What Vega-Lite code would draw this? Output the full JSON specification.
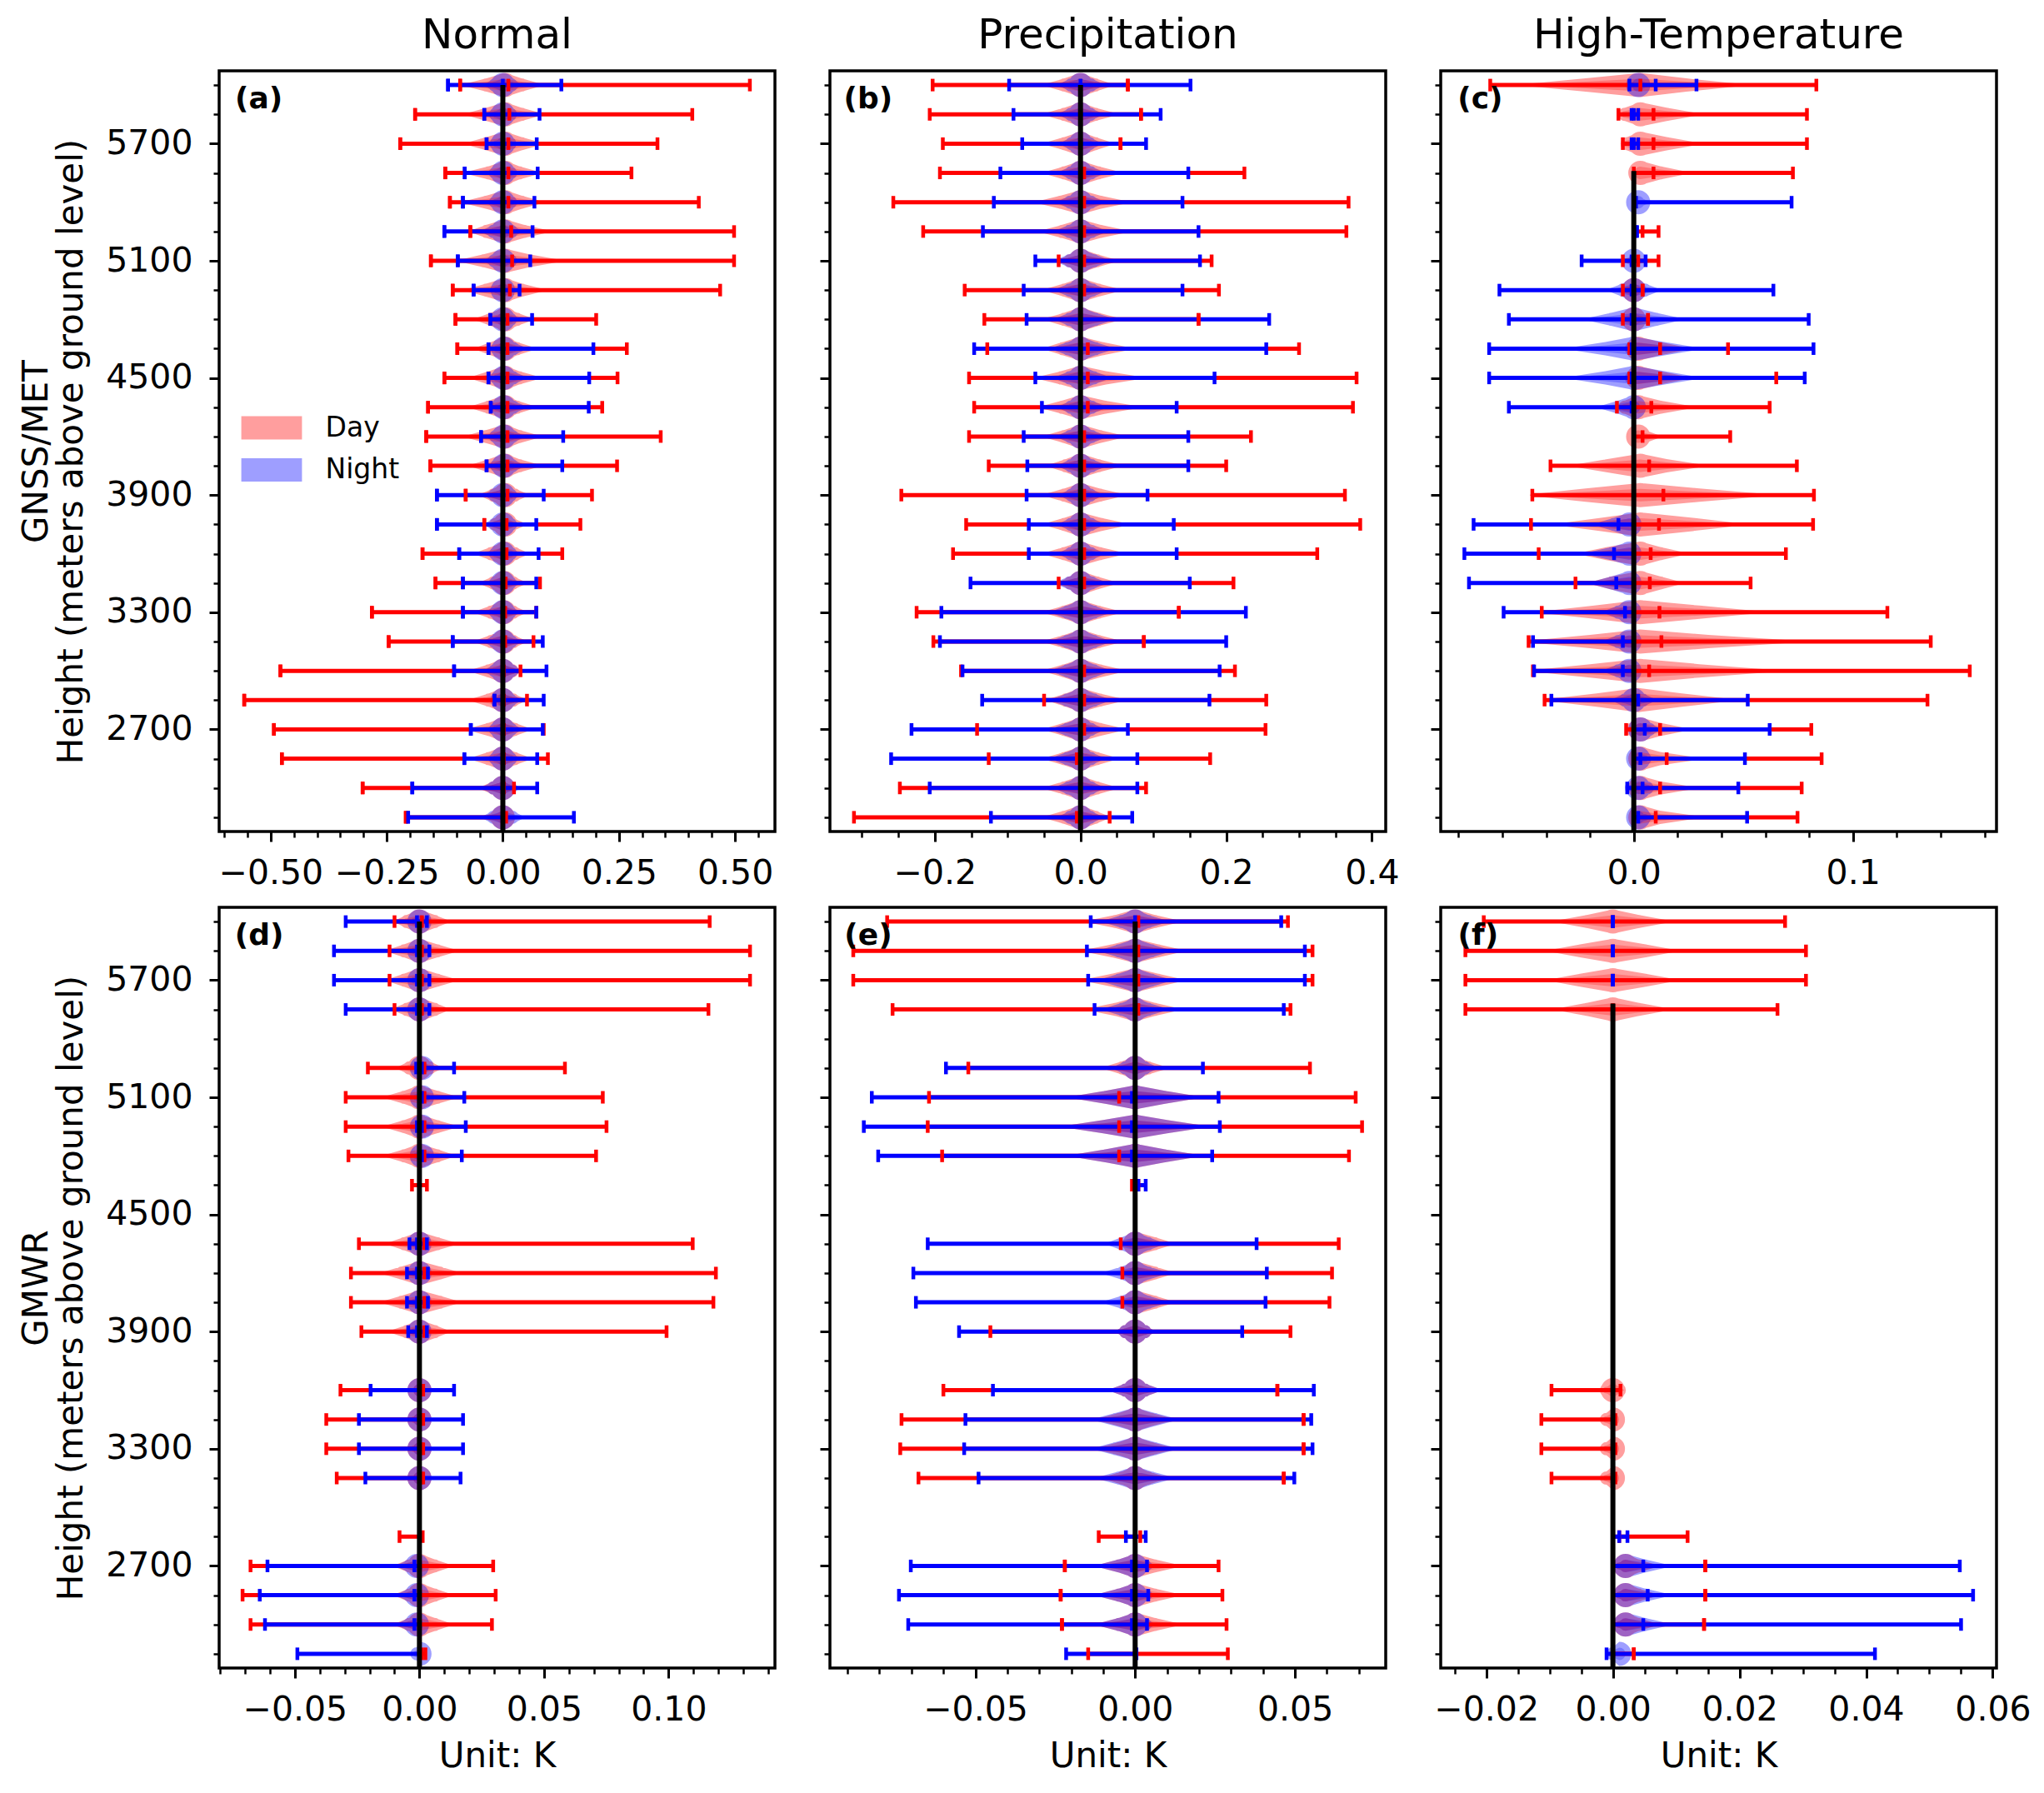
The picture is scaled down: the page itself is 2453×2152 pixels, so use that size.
{"$schema":"https://vega.github.io/schema/vega-lite/v6.json","padding":{"left":20,"top":16,"right":10,"bottom":5},"background":"white","columns":3,"bounds":"flush","spacing":{"row":91,"column":66},
"config":{"view":{"stroke":"#000","strokeWidth":3.5},"font":"DejaVu Sans","range":{"category":["#ff0000","#0000ff"]},"axis":{"grid":false,"domain":false,"labelFontSize":41,"titleFontSize":42,"titleFontWeight":"normal","labelColor":"#000","titleColor":"#000","tickColor":"#000","labelFont":"DejaVu Sans","titleFont":"DejaVu Sans"},"axisX":{"labelPadding":18,"titlePadding":15},"axisY":{"labelPadding":20},"title":{"fontSize":50,"fontWeight":"normal","color":"#000","font":"DejaVu Sans","offset":17}},
"datasets":{
"a":[
{"g":"Day","h":6000,"lo":-0.092,"m":0.012,"hi":0.532,"x":[-0.085,-0.035,0.005,0.04,0.085]},
{"g":"Day","h":5850,"lo":-0.189,"m":0.014,"hi":0.408,"x":[-0.08,-0.035,0.005,0.04,0.085]},
{"g":"Day","h":5700,"lo":-0.221,"m":0.012,"hi":0.333,"x":[-0.08,-0.035,0.005,0.04,0.085]},
{"g":"Day","h":5550,"lo":-0.124,"m":0.012,"hi":0.277,"x":[-0.08,-0.03,0.005,0.035,0.08]},
{"g":"Day","h":5400,"lo":-0.114,"m":0.012,"hi":0.422,"x":[-0.085,-0.035,0.005,0.04,0.085]},
{"g":"Day","h":5250,"lo":-0.07,"m":0.018,"hi":0.498,"x":[-0.07,-0.035,0.005,0.045,0.1]},
{"g":"Day","h":5100,"lo":-0.155,"m":0.02,"hi":0.498,"x":[-0.095,-0.04,0.005,0.055,0.125]},
{"g":"Day","h":4950,"lo":-0.108,"m":0.015,"hi":0.468,"x":[-0.08,-0.035,0.005,0.04,0.09]},
{"g":"Day","h":4800,"lo":-0.102,"m":0.01,"hi":0.201,"x":[-0.06,-0.025,0.005,0.03,0.065]},
{"g":"Day","h":4650,"lo":-0.098,"m":0.01,"hi":0.267,"x":[-0.06,-0.025,0.005,0.03,0.07]},
{"g":"Day","h":4500,"lo":-0.126,"m":0.01,"hi":0.247,"x":[-0.07,-0.03,0.005,0.035,0.08]},
{"g":"Day","h":4350,"lo":-0.161,"m":0.01,"hi":0.214,"x":[-0.07,-0.03,0.005,0.03,0.07]},
{"g":"Day","h":4200,"lo":-0.165,"m":0.01,"hi":0.34,"x":[-0.08,-0.035,0.005,0.035,0.08]},
{"g":"Day","h":4050,"lo":-0.156,"m":0.01,"hi":0.246,"x":[-0.07,-0.03,0.005,0.035,0.08]},
{"g":"Day","h":3900,"lo":-0.08,"m":0.01,"hi":0.192,"x":[-0.05,-0.02,0.005,0.025,0.055]},
{"g":"Day","h":3750,"lo":-0.04,"m":0.008,"hi":0.167,"x":[-0.035,-0.015,0.005,0.02,0.05]},
{"g":"Day","h":3600,"lo":-0.173,"m":0.008,"hi":0.128,"x":[-0.06,-0.025,0.004,0.025,0.055]},
{"g":"Day","h":3450,"lo":-0.145,"m":0.006,"hi":0.08,"x":[-0.05,-0.02,0.003,0.022,0.05]},
{"g":"Day","h":3300,"lo":-0.282,"m":0.005,"hi":0.072,"x":[-0.06,-0.025,0.002,0.022,0.05]},
{"g":"Day","h":3150,"lo":-0.246,"m":0.005,"hi":0.066,"x":[-0.06,-0.025,0.002,0.022,0.05]},
{"g":"Day","h":3000,"lo":-0.479,"m":0.002,"hi":0.038,"x":[-0.07,-0.03,0,0.02,0.038]},
{"g":"Day","h":2850,"lo":-0.557,"m":0.002,"hi":0.052,"x":[-0.07,-0.03,0,0.022,0.05]},
{"g":"Day","h":2700,"lo":-0.493,"m":0.002,"hi":0.088,"x":[-0.075,-0.03,0,0.025,0.06]},
{"g":"Day","h":2550,"lo":-0.476,"m":0.002,"hi":0.097,"x":[-0.07,-0.03,0,0.025,0.06]},
{"g":"Day","h":2400,"lo":-0.302,"m":0.002,"hi":0.024,"x":[-0.05,-0.02,0,0.012,0.024]},
{"g":"Day","h":2250,"lo":-0.209,"m":0.001,"hi":0.007,"x":[-0.04,-0.015,0,0.004,0.007]},
{"g":"Night","h":6000,"lo":-0.118,"m":0,"hi":0.126,"x":[-0.04,-0.017,0,0.018,0.04]},
{"g":"Night","h":5850,"lo":-0.04,"m":0,"hi":0.079,"x":[-0.035,-0.015,0,0.016,0.035]},
{"g":"Night","h":5700,"lo":-0.035,"m":0,"hi":0.073,"x":[-0.03,-0.014,0,0.015,0.032]},
{"g":"Night","h":5550,"lo":-0.082,"m":0,"hi":0.075,"x":[-0.035,-0.015,0,0.016,0.035]},
{"g":"Night","h":5400,"lo":-0.086,"m":0,"hi":0.068,"x":[-0.035,-0.015,0,0.016,0.035]},
{"g":"Night","h":5250,"lo":-0.126,"m":0,"hi":0.064,"x":[-0.045,-0.02,0,0.018,0.04]},
{"g":"Night","h":5100,"lo":-0.097,"m":0,"hi":0.059,"x":[-0.04,-0.018,0,0.016,0.035]},
{"g":"Night","h":4950,"lo":-0.063,"m":0,"hi":0.036,"x":[-0.03,-0.013,0,0.012,0.03]},
{"g":"Night","h":4800,"lo":-0.027,"m":0,"hi":0.063,"x":[-0.027,-0.012,0,0.016,0.035]},
{"g":"Night","h":4650,"lo":-0.031,"m":0,"hi":0.195,"x":[-0.03,-0.012,0.002,0.022,0.05]},
{"g":"Night","h":4500,"lo":-0.031,"m":0,"hi":0.186,"x":[-0.031,-0.013,0.002,0.022,0.05]},
{"g":"Night","h":4350,"lo":-0.026,"m":0,"hi":0.185,"x":[-0.026,-0.012,0.002,0.022,0.05]},
{"g":"Night","h":4200,"lo":-0.047,"m":0,"hi":0.13,"x":[-0.035,-0.015,0.002,0.02,0.045]},
{"g":"Night","h":4050,"lo":-0.035,"m":0,"hi":0.128,"x":[-0.03,-0.013,0.002,0.02,0.045]},
{"g":"Night","h":3900,"lo":-0.142,"m":0,"hi":0.088,"x":[-0.04,-0.017,0,0.016,0.035]},
{"g":"Night","h":3750,"lo":-0.142,"m":0,"hi":0.072,"x":[-0.04,-0.017,0,0.016,0.035]},
{"g":"Night","h":3600,"lo":-0.094,"m":0,"hi":0.077,"x":[-0.035,-0.015,0,0.016,0.035]},
{"g":"Night","h":3450,"lo":-0.086,"m":0,"hi":0.072,"x":[-0.035,-0.015,0,0.015,0.035]},
{"g":"Night","h":3300,"lo":-0.086,"m":0,"hi":0.072,"x":[-0.035,-0.015,0,0.015,0.035]},
{"g":"Night","h":3150,"lo":-0.108,"m":0,"hi":0.086,"x":[-0.04,-0.017,0,0.017,0.04]},
{"g":"Night","h":3000,"lo":-0.105,"m":0,"hi":0.094,"x":[-0.04,-0.017,0,0.018,0.04]},
{"g":"Night","h":2850,"lo":-0.018,"m":0,"hi":0.088,"x":[-0.018,-0.008,0,0.016,0.04]},
{"g":"Night","h":2700,"lo":-0.069,"m":0,"hi":0.086,"x":[-0.035,-0.015,0,0.017,0.04]},
{"g":"Night","h":2550,"lo":-0.083,"m":0,"hi":0.074,"x":[-0.035,-0.015,0,0.016,0.035]},
{"g":"Night","h":2400,"lo":-0.195,"m":0,"hi":0.074,"x":[-0.045,-0.02,0,0.016,0.035]},
{"g":"Night","h":2250,"lo":-0.204,"m":0,"hi":0.153,"x":[-0.045,-0.02,0,0.02,0.045]}],
"b":[
{"g":"Day","h":6000,"lo":-0.203,"m":0.065,"hi":0.065,"x":[-0.05,-0.022,0,0.02,0.045]},
{"g":"Day","h":5850,"lo":-0.207,"m":0.083,"hi":0.083,"x":[-0.05,-0.022,0,0.02,0.05]},
{"g":"Day","h":5700,"lo":-0.189,"m":0.055,"hi":0.055,"x":[-0.05,-0.022,0,0.02,0.045]},
{"g":"Day","h":5550,"lo":-0.193,"m":0.005,"hi":0.225,"x":[-0.05,-0.022,0,0.024,0.055]},
{"g":"Day","h":5400,"lo":-0.257,"m":0.005,"hi":0.368,"x":[-0.06,-0.027,0,0.027,0.065]},
{"g":"Day","h":5250,"lo":-0.216,"m":0.005,"hi":0.365,"x":[-0.055,-0.025,0,0.027,0.065]},
{"g":"Day","h":5100,"lo":-0.03,"m":0.005,"hi":0.18,"x":[-0.03,-0.014,0,0.022,0.05]},
{"g":"Day","h":4950,"lo":-0.159,"m":0.005,"hi":0.19,"x":[-0.05,-0.022,0,0.024,0.055]},
{"g":"Day","h":4800,"lo":-0.132,"m":0.162,"hi":0.162,"x":[-0.05,-0.022,0,0.024,0.055]},
{"g":"Day","h":4650,"lo":-0.128,"m":0.01,"hi":0.3,"x":[-0.05,-0.024,0,0.03,0.07]},
{"g":"Day","h":4500,"lo":-0.153,"m":0.01,"hi":0.379,"x":[-0.06,-0.027,0,0.035,0.085]},
{"g":"Day","h":4350,"lo":-0.146,"m":0.01,"hi":0.374,"x":[-0.055,-0.025,0,0.033,0.08]},
{"g":"Day","h":4200,"lo":-0.153,"m":0.005,"hi":0.234,"x":[-0.05,-0.022,0,0.026,0.06]},
{"g":"Day","h":4050,"lo":-0.126,"m":0.005,"hi":0.2,"x":[-0.045,-0.02,0,0.024,0.055]},
{"g":"Day","h":3900,"lo":-0.246,"m":0.005,"hi":0.363,"x":[-0.05,-0.022,0,0.026,0.06]},
{"g":"Day","h":3750,"lo":-0.157,"m":0.005,"hi":0.384,"x":[-0.05,-0.022,0,0.028,0.065]},
{"g":"Day","h":3600,"lo":-0.175,"m":0.005,"hi":0.325,"x":[-0.05,-0.022,0,0.026,0.06]},
{"g":"Day","h":3450,"lo":-0.03,"m":0.005,"hi":0.21,"x":[-0.03,-0.014,0,0.022,0.05]},
{"g":"Day","h":3300,"lo":-0.225,"m":0.135,"hi":0.135,"x":[-0.05,-0.022,0,0.024,0.055]},
{"g":"Day","h":3150,"lo":-0.202,"m":0.087,"hi":0.087,"x":[-0.05,-0.022,0,0.024,0.055]},
{"g":"Day","h":3000,"lo":-0.164,"m":0.005,"hi":0.212,"x":[-0.05,-0.022,0,0.026,0.06]},
{"g":"Day","h":2850,"lo":-0.05,"m":0.005,"hi":0.255,"x":[-0.045,-0.02,0,0.026,0.06]},
{"g":"Day","h":2700,"lo":-0.142,"m":0.005,"hi":0.254,"x":[-0.05,-0.022,0,0.026,0.06]},
{"g":"Day","h":2550,"lo":-0.126,"m":-0.005,"hi":0.178,"x":[-0.05,-0.022,0,0.022,0.05]},
{"g":"Day","h":2400,"lo":-0.248,"m":0,"hi":0.09,"x":[-0.05,-0.022,0,0.022,0.05]},
{"g":"Day","h":2250,"lo":-0.311,"m":-0.005,"hi":0.04,"x":[-0.05,-0.022,0,0.02,0.04]},
{"g":"Night","h":6000,"lo":-0.098,"m":0,"hi":0.151,"x":[-0.03,-0.013,0,0.014,0.032]},
{"g":"Night","h":5850,"lo":-0.092,"m":0,"hi":0.11,"x":[-0.03,-0.013,0,0.013,0.03]},
{"g":"Night","h":5700,"lo":-0.08,"m":0,"hi":0.09,"x":[-0.028,-0.012,0,0.012,0.028]},
{"g":"Night","h":5550,"lo":-0.11,"m":0,"hi":0.148,"x":[-0.03,-0.013,0,0.014,0.032]},
{"g":"Night","h":5400,"lo":-0.119,"m":0,"hi":0.14,"x":[-0.032,-0.014,0,0.014,0.032]},
{"g":"Night","h":5250,"lo":-0.134,"m":0,"hi":0.162,"x":[-0.035,-0.015,0,0.015,0.035]},
{"g":"Night","h":5100,"lo":-0.062,"m":0,"hi":0.164,"x":[-0.035,-0.015,0,0.018,0.04]},
{"g":"Night","h":4950,"lo":-0.078,"m":0,"hi":0.14,"x":[-0.035,-0.015,0,0.016,0.036]},
{"g":"Night","h":4800,"lo":-0.074,"m":0,"hi":0.259,"x":[-0.035,-0.015,0,0.02,0.045]},
{"g":"Night","h":4650,"lo":-0.146,"m":0,"hi":0.255,"x":[-0.04,-0.017,0,0.02,0.045]},
{"g":"Night","h":4500,"lo":-0.062,"m":0,"hi":0.184,"x":[-0.035,-0.015,0,0.018,0.04]},
{"g":"Night","h":4350,"lo":-0.053,"m":0,"hi":0.132,"x":[-0.03,-0.013,0,0.015,0.035]},
{"g":"Night","h":4200,"lo":-0.078,"m":0,"hi":0.148,"x":[-0.032,-0.014,0,0.015,0.035]},
{"g":"Night","h":4050,"lo":-0.073,"m":0,"hi":0.148,"x":[-0.03,-0.013,0,0.015,0.035]},
{"g":"Night","h":3900,"lo":-0.074,"m":0,"hi":0.092,"x":[-0.028,-0.012,0,0.013,0.03]},
{"g":"Night","h":3750,"lo":-0.071,"m":0,"hi":0.128,"x":[-0.03,-0.013,0,0.014,0.032]},
{"g":"Night","h":3600,"lo":-0.071,"m":0,"hi":0.132,"x":[-0.03,-0.013,0,0.014,0.032]},
{"g":"Night","h":3450,"lo":-0.151,"m":0,"hi":0.15,"x":[-0.035,-0.015,0,0.015,0.035]},
{"g":"Night","h":3300,"lo":-0.191,"m":0,"hi":0.227,"x":[-0.04,-0.018,0,0.018,0.04]},
{"g":"Night","h":3150,"lo":-0.193,"m":0,"hi":0.2,"x":[-0.04,-0.018,0,0.018,0.04]},
{"g":"Night","h":3000,"lo":-0.162,"m":0,"hi":0.191,"x":[-0.04,-0.018,0,0.018,0.04]},
{"g":"Night","h":2850,"lo":-0.135,"m":0,"hi":0.177,"x":[-0.04,-0.018,0,0.018,0.04]},
{"g":"Night","h":2700,"lo":-0.232,"m":0,"hi":0.065,"x":[-0.04,-0.018,0,0.014,0.032]},
{"g":"Night","h":2550,"lo":-0.26,"m":0,"hi":0.078,"x":[-0.04,-0.018,0,0.014,0.032]},
{"g":"Night","h":2400,"lo":-0.207,"m":0,"hi":0.078,"x":[-0.035,-0.016,0,0.014,0.032]},
{"g":"Night","h":2250,"lo":-0.123,"m":0,"hi":0.071,"x":[-0.03,-0.014,0,0.013,0.03]}],
"c":[
{"g":"Day","h":6000,"lo":-0.0655,"m":0.003,"hi":0.0833,"x":[-0.05,-0.022,0.003,0.024,0.05]},
{"g":"Day","h":5850,"lo":-0.007,"m":0.009,"hi":0.079,"x":[-0.007,-0.004,0.003,0.015,0.03]},
{"g":"Day","h":5700,"lo":-0.005,"m":0.009,"hi":0.079,"x":[-0.005,-0.003,0.003,0.015,0.03]},
{"g":"Day","h":5550,"lo":0,"m":0.009,"hi":0.0726,"x":[0,0.001,0.003,0.012,0.025]},
{"g":"Day","h":5250,"lo":0,"m":0.004,"hi":0.0113,"x":[]},
{"g":"Day","h":5100,"lo":-0.005,"m":0.002,"hi":0.0113,"x":[]},
{"g":"Day","h":4950,"lo":-0.005,"m":0.004,"hi":0.004,"x":[-0.005,-0.003,0,0.002,0.004]},
{"g":"Day","h":4800,"lo":-0.005,"m":0.0065,"hi":0.0065,"x":[-0.005,-0.003,0,0.003,0.0065]},
{"g":"Day","h":4650,"lo":-0.002,"m":0.012,"hi":0.043,"x":[-0.002,-0.001,0.002,0.012,0.025]},
{"g":"Day","h":4500,"lo":-0.002,"m":0.012,"hi":0.065,"x":[-0.002,-0.001,0.002,0.012,0.025]},
{"g":"Day","h":4350,"lo":-0.0077,"m":0.008,"hi":0.062,"x":[-0.0077,-0.004,0.002,0.012,0.027]},
{"g":"Day","h":4200,"lo":0,"m":0.004,"hi":0.044,"x":[0,0.001,0.002,0.005,0.012]},
{"g":"Day","h":4050,"lo":-0.038,"m":0.007,"hi":0.0744,"x":[-0.028,-0.012,0.003,0.015,0.032]},
{"g":"Day","h":3900,"lo":-0.0463,"m":0.0135,"hi":0.0822,"x":[-0.047,-0.022,0.003,0.03,0.062]},
{"g":"Day","h":3750,"lo":-0.0469,"m":0.0115,"hi":0.0818,"x":[-0.035,-0.015,0.003,0.027,0.05]},
{"g":"Day","h":3600,"lo":-0.0434,"m":0.0077,"hi":0.0694,"x":[-0.025,-0.012,0.003,0.012,0.024]},
{"g":"Day","h":3450,"lo":-0.0266,"m":0.0073,"hi":0.0533,"x":[-0.02,-0.01,0.003,0.012,0.022]},
{"g":"Day","h":3300,"lo":-0.042,"m":0.0117,"hi":0.1157,"x":[-0.042,-0.018,0.003,0.03,0.058]},
{"g":"Day","h":3150,"lo":-0.048,"m":0.0126,"hi":0.1355,"x":[-0.048,-0.02,0.003,0.034,0.075]},
{"g":"Day","h":3000,"lo":-0.046,"m":0.007,"hi":0.1533,"x":[-0.046,-0.02,0.003,0.03,0.065]},
{"g":"Day","h":2850,"lo":-0.0407,"m":0.002,"hi":0.134,"x":[-0.04,-0.017,0.002,0.022,0.045]},
{"g":"Day","h":2700,"lo":-0.0035,"m":0.012,"hi":0.081,"x":[-0.0035,-0.001,0.003,0.012,0.025]},
{"g":"Day","h":2550,"lo":0,"m":0.015,"hi":0.0857,"x":[0,0.001,0.003,0.012,0.03]},
{"g":"Day","h":2400,"lo":0,"m":0.012,"hi":0.0766,"x":[0,0.001,0.003,0.012,0.028]},
{"g":"Day","h":2250,"lo":0,"m":0.01,"hi":0.0747,"x":[0,0.001,0.003,0.012,0.03]},
{"g":"Night","h":6000,"lo":-0.002,"m":0.01,"hi":0.0286,"x":[-0.002,0,0.002,0.004,0.008]},
{"g":"Night","h":5850,"lo":-0.001,"m":0,"hi":0.002,"x":[]},
{"g":"Night","h":5700,"lo":-0.001,"m":0,"hi":0.002,"x":[]},
{"g":"Night","h":5400,"lo":0,"m":0.001,"hi":0.072,"x":[0,0.001,0.002,0.004,0.008]},
{"g":"Night","h":5250,"lo":0,"m":0.001,"hi":0.0015,"x":[]},
{"g":"Night","h":5100,"lo":-0.0238,"m":-0.001,"hi":0.0054,"x":[-0.005,-0.002,0,0.002,0.005]},
{"g":"Night","h":4950,"lo":-0.0613,"m":-0.001,"hi":0.0637,"x":[-0.012,-0.005,0,0.005,0.012]},
{"g":"Night","h":4800,"lo":-0.057,"m":-0.001,"hi":0.0798,"x":[-0.022,-0.01,0,0.01,0.022]},
{"g":"Night","h":4650,"lo":-0.066,"m":-0.001,"hi":0.082,"x":[-0.03,-0.013,0,0.014,0.03]},
{"g":"Night","h":4500,"lo":-0.066,"m":-0.001,"hi":0.078,"x":[-0.03,-0.013,0,0.014,0.03]},
{"g":"Night","h":4350,"lo":-0.057,"m":-0.001,"hi":0,"x":[-0.016,-0.007,0,0.001,0.002]},
{"g":"Night","h":3750,"lo":-0.0731,"m":-0.007,"hi":0,"x":[-0.018,-0.009,-0.002,0,0.001]},
{"g":"Night","h":3600,"lo":-0.0773,"m":-0.009,"hi":0,"x":[-0.022,-0.01,-0.002,0,0.001]},
{"g":"Night","h":3450,"lo":-0.0752,"m":-0.008,"hi":0,"x":[-0.02,-0.01,-0.002,0,0.001]},
{"g":"Night","h":3300,"lo":-0.0594,"m":-0.004,"hi":0,"x":[-0.014,-0.007,-0.002,0,0.001]},
{"g":"Night","h":3150,"lo":-0.046,"m":-0.005,"hi":0,"x":[-0.014,-0.007,-0.002,0,0.001]},
{"g":"Night","h":3000,"lo":-0.0455,"m":-0.005,"hi":0,"x":[-0.014,-0.007,-0.002,0,0.001]},
{"g":"Night","h":2850,"lo":-0.0376,"m":0.002,"hi":0.052,"x":[-0.01,-0.004,0,0.004,0.01]},
{"g":"Night","h":2700,"lo":0,"m":0.005,"hi":0.062,"x":[0,0.001,0.003,0.007,0.012]},
{"g":"Night","h":2550,"lo":0,"m":0.003,"hi":0.0507,"x":[0,0.001,0.002,0.005,0.008]},
{"g":"Night","h":2400,"lo":-0.003,"m":0.004,"hi":0.0477,"x":[-0.003,-0.001,0.002,0.006,0.01]},
{"g":"Night","h":2250,"lo":0,"m":0.002,"hi":0.0517,"x":[0,0.001,0.002,0.005,0.008]}],
"d":[
{"g":"Day","h":6000,"lo":-0.01,"m":0.001,"hi":0.1165,"x":[-0.01,-0.005,0,0.006,0.012]},
{"g":"Day","h":5850,"lo":-0.012,"m":0.001,"hi":0.1327,"x":[-0.013,-0.006,0,0.007,0.015]},
{"g":"Day","h":5700,"lo":-0.012,"m":0.001,"hi":0.1327,"x":[-0.013,-0.006,0,0.007,0.015]},
{"g":"Day","h":5550,"lo":-0.01,"m":0.001,"hi":0.116,"x":[-0.011,-0.005,0,0.006,0.012]},
{"g":"Day","h":5250,"lo":-0.0207,"m":0.002,"hi":0.0584,"x":[-0.009,-0.004,0,0.004,0.009]},
{"g":"Day","h":5100,"lo":-0.0296,"m":0.002,"hi":0.0736,"x":[-0.014,-0.006,0,0.007,0.015]},
{"g":"Day","h":4950,"lo":-0.0296,"m":0.002,"hi":0.0751,"x":[-0.014,-0.006,0,0.007,0.015]},
{"g":"Day","h":4800,"lo":-0.0285,"m":0.002,"hi":0.0709,"x":[-0.014,-0.006,0,0.007,0.014]},
{"g":"Day","h":4650,"lo":-0.003,"m":0,"hi":0.003,"x":[]},
{"g":"Day","h":4350,"lo":-0.0243,"m":0.002,"hi":0.1097,"x":[-0.013,-0.006,0,0.007,0.015]},
{"g":"Day","h":4200,"lo":-0.0275,"m":0.002,"hi":0.119,"x":[-0.015,-0.007,0,0.008,0.016]},
{"g":"Day","h":4050,"lo":-0.0275,"m":0.002,"hi":0.118,"x":[-0.015,-0.007,0,0.008,0.016]},
{"g":"Day","h":3900,"lo":-0.0233,"m":0.002,"hi":0.0992,"x":[-0.012,-0.005,0,0.006,0.012]},
{"g":"Day","h":3600,"lo":-0.0317,"m":0.001,"hi":0.0015,"x":[-0.003,-0.001,0,0.001,0.0025]},
{"g":"Day","h":3450,"lo":-0.0374,"m":0.001,"hi":0.0015,"x":[-0.0045,-0.002,0,0.001,0.0025]},
{"g":"Day","h":3300,"lo":-0.0374,"m":0.001,"hi":0.0015,"x":[-0.0045,-0.002,0,0.001,0.0025]},
{"g":"Day","h":3150,"lo":-0.0332,"m":0.001,"hi":0.0015,"x":[-0.003,-0.001,0,0.001,0.0025]},
{"g":"Day","h":2850,"lo":-0.008,"m":0,"hi":0.0013,"x":[]},
{"g":"Day","h":2700,"lo":-0.0678,"m":0,"hi":0.0296,"x":[-0.01,-0.004,0,0.006,0.013]},
{"g":"Day","h":2550,"lo":-0.071,"m":0,"hi":0.0306,"x":[-0.01,-0.004,0,0.006,0.013]},
{"g":"Day","h":2400,"lo":-0.0678,"m":0,"hi":0.0291,"x":[-0.01,-0.004,0,0.006,0.013]},
{"g":"Day","h":2250,"lo":0,"m":0.001,"hi":0.0024,"x":[]},
{"g":"Night","h":6000,"lo":-0.0296,"m":-0.001,"hi":0.003,"x":[-0.004,-0.002,0,0.002,0.003]},
{"g":"Night","h":5850,"lo":-0.0343,"m":-0.001,"hi":0.004,"x":[-0.005,-0.002,0,0.002,0.004]},
{"g":"Night","h":5700,"lo":-0.0343,"m":-0.001,"hi":0.004,"x":[-0.005,-0.002,0,0.002,0.004]},
{"g":"Night","h":5550,"lo":-0.0296,"m":-0.001,"hi":0.004,"x":[-0.004,-0.002,0,0.002,0.004]},
{"g":"Night","h":5250,"lo":-0.0013,"m":0.001,"hi":0.0139,"x":[-0.0013,0,0.001,0.002,0.004]},
{"g":"Night","h":5100,"lo":0,"m":0.001,"hi":0.018,"x":[-0.003,-0.001,0.001,0.003,0.005]},
{"g":"Night","h":4950,"lo":-0.001,"m":0.001,"hi":0.0186,"x":[-0.003,-0.001,0.001,0.003,0.005]},
{"g":"Night","h":4800,"lo":0,"m":0.001,"hi":0.017,"x":[-0.003,-0.001,0.001,0.003,0.005]},
{"g":"Night","h":4350,"lo":-0.004,"m":-0.001,"hi":0.003,"x":[-0.004,-0.002,0,0.002,0.003]},
{"g":"Night","h":4200,"lo":-0.005,"m":-0.001,"hi":0.0034,"x":[-0.005,-0.002,0,0.002,0.0034]},
{"g":"Night","h":4050,"lo":-0.005,"m":-0.001,"hi":0.0034,"x":[-0.005,-0.002,0,0.002,0.0034]},
{"g":"Night","h":3900,"lo":-0.0045,"m":-0.001,"hi":0.003,"x":[-0.0045,-0.002,0,0.002,0.003]},
{"g":"Night","h":3600,"lo":-0.0196,"m":0,"hi":0.0139,"x":[-0.002,-0.001,0,0.001,0.002]},
{"g":"Night","h":3450,"lo":-0.0243,"m":0,"hi":0.0175,"x":[-0.003,-0.001,0,0.001,0.003]},
{"g":"Night","h":3300,"lo":-0.0243,"m":0,"hi":0.0175,"x":[-0.003,-0.001,0,0.001,0.003]},
{"g":"Night","h":3150,"lo":-0.0217,"m":0,"hi":0.0165,"x":[-0.002,-0.001,0,0.001,0.002]},
{"g":"Night","h":2700,"lo":-0.061,"m":-0.002,"hi":0,"x":[-0.009,-0.004,-0.001,0,0.001]},
{"g":"Night","h":2550,"lo":-0.0641,"m":-0.002,"hi":0,"x":[-0.009,-0.004,-0.001,0,0.001]},
{"g":"Night","h":2400,"lo":-0.062,"m":-0.002,"hi":0,"x":[-0.009,-0.004,-0.001,0,0.001]},
{"g":"Night","h":2250,"lo":-0.049,"m":0,"hi":0,"x":[-0.002,-0.001,0,0,0.001]}],
"e":[
{"g":"Day","h":6000,"lo":-0.0776,"m":0.001,"hi":0.0478,"x":[-0.015,-0.006,0,0.006,0.014]},
{"g":"Day","h":5850,"lo":-0.0882,"m":0.001,"hi":0.0555,"x":[-0.016,-0.007,0,0.007,0.015]},
{"g":"Day","h":5700,"lo":-0.0882,"m":0.001,"hi":0.0555,"x":[-0.016,-0.007,0,0.007,0.015]},
{"g":"Day","h":5550,"lo":-0.0759,"m":0.001,"hi":0.0486,"x":[-0.015,-0.006,0,0.006,0.014]},
{"g":"Day","h":5250,"lo":-0.0522,"m":0,"hi":0.0547,"x":[-0.01,-0.004,0,0.004,0.01]},
{"g":"Day","h":5100,"lo":-0.0645,"m":-0.005,"hi":0.069,"x":[-0.02,-0.009,0,0.009,0.02]},
{"g":"Day","h":4950,"lo":-0.0649,"m":-0.005,"hi":0.071,"x":[-0.022,-0.01,0,0.01,0.022]},
{"g":"Day","h":4800,"lo":-0.0604,"m":-0.005,"hi":0.0669,"x":[-0.02,-0.009,0,0.009,0.02]},
{"g":"Day","h":4650,"lo":-0.001,"m":0,"hi":0.001,"x":[]},
{"g":"Day","h":4350,"lo":-0.0045,"m":0,"hi":0.0637,"x":[-0.0045,-0.002,0,0.006,0.012]},
{"g":"Day","h":4200,"lo":-0.004,"m":0,"hi":0.0616,"x":[-0.004,-0.002,0,0.006,0.012]},
{"g":"Day","h":4050,"lo":-0.004,"m":0,"hi":0.0608,"x":[-0.004,-0.002,0,0.006,0.012]},
{"g":"Day","h":3900,"lo":-0.0453,"m":0,"hi":0.0486,"x":[-0.006,-0.003,0,0.003,0.006]},
{"g":"Day","h":3600,"lo":-0.06,"m":0.0445,"hi":0.0445,"x":[-0.008,-0.003,0,0.003,0.008]},
{"g":"Day","h":3450,"lo":-0.0731,"m":0.0527,"hi":0.0527,"x":[-0.012,-0.005,0,0.005,0.012]},
{"g":"Day","h":3300,"lo":-0.0735,"m":0.0527,"hi":0.0527,"x":[-0.012,-0.005,0,0.005,0.012]},
{"g":"Day","h":3150,"lo":-0.0678,"m":0.0465,"hi":0.0465,"x":[-0.01,-0.004,0,0.004,0.01]},
{"g":"Day","h":2850,"lo":-0.0114,"m":0,"hi":0.0016,"x":[]},
{"g":"Day","h":2700,"lo":-0.022,"m":-0.022,"hi":0.0261,"x":[-0.012,-0.005,0,0.006,0.014]},
{"g":"Day","h":2550,"lo":-0.0233,"m":-0.0233,"hi":0.0273,"x":[-0.012,-0.005,0,0.006,0.014]},
{"g":"Day","h":2400,"lo":-0.0229,"m":-0.0229,"hi":0.0286,"x":[-0.012,-0.005,0,0.006,0.014]},
{"g":"Day","h":2250,"lo":-0.0147,"m":0,"hi":0.029,"x":[]},
{"g":"Night","h":6000,"lo":-0.0139,"m":0,"hi":0.0457,"x":[-0.01,-0.004,0,0.004,0.01]},
{"g":"Night","h":5850,"lo":-0.0151,"m":0,"hi":0.0531,"x":[-0.011,-0.005,0,0.005,0.011]},
{"g":"Night","h":5700,"lo":-0.0147,"m":0,"hi":0.0531,"x":[-0.011,-0.005,0,0.005,0.011]},
{"g":"Night","h":5550,"lo":-0.0127,"m":0,"hi":0.0465,"x":[-0.01,-0.004,0,0.004,0.01]},
{"g":"Night","h":5250,"lo":-0.0592,"m":0,"hi":0.0212,"x":[-0.007,-0.003,0,0.003,0.007]},
{"g":"Night","h":5100,"lo":-0.0824,"m":-0.001,"hi":0.0261,"x":[-0.02,-0.009,0,0.009,0.02]},
{"g":"Night","h":4950,"lo":-0.0849,"m":-0.001,"hi":0.0265,"x":[-0.022,-0.01,0,0.01,0.022]},
{"g":"Night","h":4800,"lo":-0.0804,"m":-0.001,"hi":0.0241,"x":[-0.02,-0.009,0,0.009,0.02]},
{"g":"Night","h":4650,"lo":0,"m":0.001,"hi":0.0033,"x":[]},
{"g":"Night","h":4350,"lo":-0.0649,"m":0,"hi":0.038,"x":[-0.009,-0.004,0,0.004,0.009]},
{"g":"Night","h":4200,"lo":-0.0694,"m":0,"hi":0.0412,"x":[-0.01,-0.004,0,0.004,0.01]},
{"g":"Night","h":4050,"lo":-0.0686,"m":0,"hi":0.0408,"x":[-0.01,-0.004,0,0.004,0.01]},
{"g":"Night","h":3900,"lo":-0.0551,"m":0,"hi":0.0335,"x":[-0.006,-0.003,0,0.003,0.006]},
{"g":"Night","h":3600,"lo":-0.0445,"m":0,"hi":0.0559,"x":[-0.008,-0.003,0,0.003,0.008]},
{"g":"Night","h":3450,"lo":-0.0531,"m":0,"hi":0.0551,"x":[-0.013,-0.006,0,0.006,0.013]},
{"g":"Night","h":3300,"lo":-0.0535,"m":0,"hi":0.0555,"x":[-0.013,-0.006,0,0.006,0.013]},
{"g":"Night","h":3150,"lo":-0.049,"m":0,"hi":0.0498,"x":[-0.012,-0.005,0,0.005,0.012]},
{"g":"Night","h":2850,"lo":-0.0029,"m":0,"hi":0.0033,"x":[]},
{"g":"Night","h":2700,"lo":-0.0702,"m":-0.001,"hi":0.0037,"x":[-0.012,-0.005,0,0.003,0.006]},
{"g":"Night","h":2550,"lo":-0.0739,"m":-0.001,"hi":0.0041,"x":[-0.012,-0.005,0,0.003,0.006]},
{"g":"Night","h":2400,"lo":-0.071,"m":-0.001,"hi":0.0037,"x":[-0.012,-0.005,0,0.003,0.006]},
{"g":"Night","h":2250,"lo":-0.0216,"m":0,"hi":0.0004,"x":[]}],
"f":[
{"g":"Day","h":6000,"lo":-0.0204,"m":0,"hi":0.0272,"x":[-0.009,-0.004,0,0.004,0.009]},
{"g":"Day","h":5850,"lo":-0.0233,"m":0,"hi":0.0305,"x":[-0.01,-0.005,0,0.005,0.01]},
{"g":"Day","h":5700,"lo":-0.0233,"m":0,"hi":0.0305,"x":[-0.01,-0.005,0,0.005,0.01]},
{"g":"Day","h":5550,"lo":-0.0233,"m":0,"hi":0.026,"x":[-0.009,-0.004,0,0.004,0.009]},
{"g":"Day","h":3600,"lo":-0.0097,"m":0,"hi":0.0012,"x":[-0.002,-0.001,0,0.001,0.0017]},
{"g":"Day","h":3450,"lo":-0.0113,"m":0,"hi":0.0004,"x":[-0.002,-0.001,0,0,0.0005]},
{"g":"Day","h":3300,"lo":-0.0113,"m":0,"hi":0.0004,"x":[-0.002,-0.001,0,0,0.0005]},
{"g":"Day","h":3150,"lo":-0.0097,"m":0,"hi":0.0004,"x":[-0.0015,-0.001,0,0,0.0005]},
{"g":"Day","h":2850,"lo":0,"m":0.001,"hi":0.0118,"x":[]},
{"g":"Day","h":2700,"lo":0,"m":0.0146,"hi":0.0146,"x":[0,0.001,0.002,0.004,0.007]},
{"g":"Day","h":2550,"lo":0,"m":0.0146,"hi":0.0146,"x":[0,0.001,0.002,0.004,0.007]},
{"g":"Day","h":2400,"lo":0,"m":0.0144,"hi":0.0144,"x":[0,0.001,0.002,0.004,0.007]},
{"g":"Day","h":2250,"lo":0,"m":0.0033,"hi":0.0033,"x":[]},
{"g":"Night","h":6000,"lo":0,"m":0,"hi":0,"x":[]},
{"g":"Night","h":5850,"lo":0,"m":0,"hi":0,"x":[]},
{"g":"Night","h":5700,"lo":0,"m":0,"hi":0,"x":[]},
{"g":"Night","h":2850,"lo":0,"m":0.001,"hi":0.0023,"x":[]},
{"g":"Night","h":2700,"lo":0,"m":0.0048,"hi":0.0548,"x":[0,0.001,0.002,0.005,0.009]},
{"g":"Night","h":2550,"lo":0,"m":0.0055,"hi":0.0569,"x":[0,0.001,0.002,0.005,0.009]},
{"g":"Night","h":2400,"lo":0,"m":0.0048,"hi":0.055,"x":[0,0.001,0.002,0.005,0.009]},
{"g":"Night","h":2250,"lo":-0.001,"m":0,"hi":0.0414,"x":[-0.001,0,0.001,0.001,0.002]}]
},
"concat":[
{"title":"Normal","width":667,"height":913,"data":{"name":"a"},"resolve":{"axis":{"x":"independent","y":"independent"},"scale":{"size":"independent"}},"layer":[
{"mark":{"type":"tick","orient":"vertical","size":15,"thickness":4.5,"opacity":1},"encoding":{"x":{"field":"lo","type":"quantitative","axis":null},"y":{"field":"h","type":"quantitative","axis":null},"color":{"field":"g","type":"nominal","legend":{"title":null,"orient":"none","legendX":46.5,"legendY":412,"symbolType":"M-2.6,-1H2.6V1H-2.6Z","symbolSize":784,"labelFontSize":33,"labelColor":"#000","rowPadding":16.5,"labelOffset":48,"symbolStrokeWidth":0,"symbolOpacity":1}}}},
{"mark":{"type":"trail","opacity":0.38},"transform":[{"flatten":["x"]},{"window":[{"op":"row_number","as":"i"}],"groupby":["g","h"]}],"encoding":{"x":{"field":"x","type":"quantitative","scale":{"domain":[-0.611,0.586],"nice":false,"zero":false},"axis":{"orient":"bottom","values":[-0.6,-0.55,-0.45,-0.4,-0.35,-0.3,-0.2,-0.15,-0.1,-0.05,0.05,0.1,0.15,0.2,0.3,0.35,0.4,0.45,0.55],"labels":false,"title":null,"tickSize":7,"tickWidth":2.5}},"y":{"field":"h","type":"quantitative","scale":{"domain":[2177,6073],"nice":false,"zero":false},"axis":{"orient":"left","values":[2250,2400,2550,2850,3000,3150,3450,3600,3750,4050,4200,4350,4650,4800,4950,5250,5400,5550,5850,6000],"labels":false,"title":null,"tickSize":7,"tickWidth":2.5}},"color":{"field":"g","type":"nominal"},"detail":{"field":"h","type":"nominal"},"order":{"field":"i","type":"quantitative"},"size":{"field":"i","type":"ordinal","scale":{"type":"ordinal","domain":[1,2,3,4,5],"range":[2,16,29,16,2]},"legend":null}}},
{"mark":{"type":"trail","opacity":0.25},"transform":[{"flatten":["x"]},{"window":[{"op":"row_number","as":"i"}],"groupby":["g","h"]}],"encoding":{"x":{"field":"x","type":"quantitative","axis":null},"y":{"field":"h","type":"quantitative","axis":null},"color":{"field":"g","type":"nominal"},"detail":{"field":"h","type":"nominal"},"order":{"field":"i","type":"quantitative"},"size":{"field":"i","type":"ordinal","scale":{"type":"ordinal","domain":[1,2,3,4,5],"range":[1,8,15,8,1]},"legend":null}}},
{"mark":{"type":"rule","strokeWidth":5},"encoding":{"x":{"field":"lo","type":"quantitative","axis":null},"x2":{"field":"hi"},"y":{"field":"h","type":"quantitative","axis":null},"color":{"field":"g","type":"nominal"}}},
{"mark":{"type":"tick","orient":"vertical","size":15,"thickness":4.5,"opacity":1},"transform":[{"fold":["lo","m","hi"]}],"encoding":{"x":{"field":"value","type":"quantitative","axis":{"orient":"bottom","values":[-0.5,-0.25,0,0.25,0.5],"format":".2f","title":null,"tickSize":12,"tickWidth":3}},"y":{"field":"h","type":"quantitative","axis":{"orient":"left","format":"d","values":[2700,3300,3900,4500,5100,5700],"title":["GNSS/MET","Height (meters above ground level)"],"titleLineHeight":42,"titlePadding":19,"tickSize":12,"tickWidth":3}},"color":{"field":"g","type":"nominal"}}},
{"data":{"values":[{"z":0,"t":6000,"b":2177}]},"mark":{"type":"rule","strokeWidth":6,"color":"#000"},"encoding":{"x":{"field":"z","type":"quantitative","axis":null},"y":{"field":"t","type":"quantitative","axis":null},"y2":{"field":"b"}}},
{"data":{"values":[{"x":-0.577,"h":5926,"t":"(a)"}]},"mark":{"type":"text","align":"left","baseline":"middle","fontWeight":"bold","fontSize":36,"color":"#000"},"encoding":{"x":{"field":"x","type":"quantitative","axis":null},"y":{"field":"h","type":"quantitative","axis":null},"text":{"field":"t"}}}]},
{"title":"Precipitation","width":667,"height":913,"data":{"name":"b"},"resolve":{"axis":{"x":"independent","y":"independent"},"scale":{"size":"independent"}},"layer":[
{"mark":{"type":"trail","opacity":0.38},"transform":[{"flatten":["x"]},{"window":[{"op":"row_number","as":"i"}],"groupby":["g","h"]}],"encoding":{"x":{"field":"x","type":"quantitative","scale":{"domain":[-0.344,0.419],"nice":false,"zero":false},"axis":{"orient":"bottom","values":[-0.3,-0.25,-0.15,-0.1,-0.05,0.05,0.1,0.15,0.25,0.3,0.35],"labels":false,"title":null,"tickSize":7,"tickWidth":2.5}},"y":{"field":"h","type":"quantitative","scale":{"domain":[2177,6073],"nice":false,"zero":false},"axis":{"orient":"left","values":[2250,2400,2550,2850,3000,3150,3450,3600,3750,4050,4200,4350,4650,4800,4950,5250,5400,5550,5850,6000],"labels":false,"title":null,"tickSize":7,"tickWidth":2.5}},"color":{"field":"g","type":"nominal","legend":null},"detail":{"field":"h","type":"nominal"},"order":{"field":"i","type":"quantitative"},"size":{"field":"i","type":"ordinal","scale":{"type":"ordinal","domain":[1,2,3,4,5],"range":[2,16,29,16,2]},"legend":null}}},
{"mark":{"type":"trail","opacity":0.25},"transform":[{"flatten":["x"]},{"window":[{"op":"row_number","as":"i"}],"groupby":["g","h"]}],"encoding":{"x":{"field":"x","type":"quantitative","axis":null},"y":{"field":"h","type":"quantitative","axis":null},"color":{"field":"g","type":"nominal","legend":null},"detail":{"field":"h","type":"nominal"},"order":{"field":"i","type":"quantitative"},"size":{"field":"i","type":"ordinal","scale":{"type":"ordinal","domain":[1,2,3,4,5],"range":[1,8,15,8,1]},"legend":null}}},
{"mark":{"type":"rule","strokeWidth":5},"encoding":{"x":{"field":"lo","type":"quantitative","axis":null},"x2":{"field":"hi"},"y":{"field":"h","type":"quantitative","axis":null},"color":{"field":"g","type":"nominal","legend":null}}},
{"mark":{"type":"tick","orient":"vertical","size":15,"thickness":4.5,"opacity":1},"transform":[{"fold":["lo","m","hi"]}],"encoding":{"x":{"field":"value","type":"quantitative","axis":{"orient":"bottom","values":[-0.2,0,0.2,0.4],"format":".1f","title":null,"tickSize":12,"tickWidth":3}},"y":{"field":"h","type":"quantitative","axis":{"orient":"left","values":[2700,3300,3900,4500,5100,5700],"labels":false,"title":null,"tickSize":12,"tickWidth":3}},"color":{"field":"g","type":"nominal","legend":null}}},
{"data":{"values":[{"z":0,"t":6000,"b":2177}]},"mark":{"type":"rule","strokeWidth":6,"color":"#000"},"encoding":{"x":{"field":"z","type":"quantitative","axis":null},"y":{"field":"t","type":"quantitative","axis":null},"y2":{"field":"b"}}},
{"data":{"values":[{"x":-0.325,"h":5926,"t":"(b)"}]},"mark":{"type":"text","align":"left","baseline":"middle","fontWeight":"bold","fontSize":36,"color":"#000"},"encoding":{"x":{"field":"x","type":"quantitative","axis":null},"y":{"field":"h","type":"quantitative","axis":null},"text":{"field":"t"}}}]},
{"title":"High-Temperature","width":667,"height":913,"data":{"name":"c"},"resolve":{"axis":{"x":"independent","y":"independent"},"scale":{"size":"independent"}},"layer":[
{"mark":{"type":"trail","opacity":0.38},"transform":[{"flatten":["x"]},{"window":[{"op":"row_number","as":"i"}],"groupby":["g","h"]}],"encoding":{"x":{"field":"x","type":"quantitative","scale":{"domain":[-0.0881,0.1655],"nice":false,"zero":false},"axis":{"orient":"bottom","values":[-0.08,-0.06,-0.04,-0.02,0.02,0.04,0.06,0.08,0.12,0.14,0.16],"labels":false,"title":null,"tickSize":7,"tickWidth":2.5}},"y":{"field":"h","type":"quantitative","scale":{"domain":[2177,6073],"nice":false,"zero":false},"axis":{"orient":"left","values":[2250,2400,2550,2850,3000,3150,3450,3600,3750,4050,4200,4350,4650,4800,4950,5250,5400,5550,5850,6000],"labels":false,"title":null,"tickSize":7,"tickWidth":2.5}},"color":{"field":"g","type":"nominal","legend":null},"detail":{"field":"h","type":"nominal"},"order":{"field":"i","type":"quantitative"},"size":{"field":"i","type":"ordinal","scale":{"type":"ordinal","domain":[1,2,3,4,5],"range":[2,16,29,16,2]},"legend":null}}},
{"mark":{"type":"trail","opacity":0.25},"transform":[{"flatten":["x"]},{"window":[{"op":"row_number","as":"i"}],"groupby":["g","h"]}],"encoding":{"x":{"field":"x","type":"quantitative","axis":null},"y":{"field":"h","type":"quantitative","axis":null},"color":{"field":"g","type":"nominal","legend":null},"detail":{"field":"h","type":"nominal"},"order":{"field":"i","type":"quantitative"},"size":{"field":"i","type":"ordinal","scale":{"type":"ordinal","domain":[1,2,3,4,5],"range":[1,8,15,8,1]},"legend":null}}},
{"mark":{"type":"rule","strokeWidth":5},"encoding":{"x":{"field":"lo","type":"quantitative","axis":null},"x2":{"field":"hi"},"y":{"field":"h","type":"quantitative","axis":null},"color":{"field":"g","type":"nominal","legend":null}}},
{"mark":{"type":"tick","orient":"vertical","size":15,"thickness":4.5,"opacity":1},"transform":[{"fold":["lo","m","hi"]}],"encoding":{"x":{"field":"value","type":"quantitative","axis":{"orient":"bottom","values":[0,0.1],"format":".1f","title":null,"tickSize":12,"tickWidth":3}},"y":{"field":"h","type":"quantitative","axis":{"orient":"left","values":[2700,3300,3900,4500,5100,5700],"labels":false,"title":null,"tickSize":12,"tickWidth":3}},"color":{"field":"g","type":"nominal","legend":null}}},
{"data":{"values":[{"z":0,"t":5560,"b":2177}]},"mark":{"type":"rule","strokeWidth":6,"color":"#000"},"encoding":{"x":{"field":"z","type":"quantitative","axis":null},"y":{"field":"t","type":"quantitative","axis":null},"y2":{"field":"b"}}},
{"data":{"values":[{"x":-0.0804,"h":5926,"t":"(c)"}]},"mark":{"type":"text","align":"left","baseline":"middle","fontWeight":"bold","fontSize":36,"color":"#000"},"encoding":{"x":{"field":"x","type":"quantitative","axis":null},"y":{"field":"h","type":"quantitative","axis":null},"text":{"field":"t"}}}]},
{"width":667,"height":913,"data":{"name":"d"},"resolve":{"axis":{"x":"independent","y":"independent"},"scale":{"size":"independent"}},"layer":[
{"mark":{"type":"trail","opacity":0.38},"transform":[{"flatten":["x"]},{"window":[{"op":"row_number","as":"i"}],"groupby":["g","h"]}],"encoding":{"x":{"field":"x","type":"quantitative","scale":{"domain":[-0.0804,0.1427],"nice":false,"zero":false},"axis":{"orient":"bottom","values":[-0.08,-0.07,-0.06,-0.04,-0.03,-0.02,-0.01,0.01,0.02,0.03,0.04,0.06,0.07,0.08,0.09,0.11,0.12,0.13,0.14],"labels":false,"title":null,"tickSize":7,"tickWidth":2.5}},"y":{"field":"h","type":"quantitative","scale":{"domain":[2177,6073],"nice":false,"zero":false},"axis":{"orient":"left","values":[2250,2400,2550,2850,3000,3150,3450,3600,3750,4050,4200,4350,4650,4800,4950,5250,5400,5550,5850,6000],"labels":false,"title":null,"tickSize":7,"tickWidth":2.5}},"color":{"field":"g","type":"nominal","legend":null},"detail":{"field":"h","type":"nominal"},"order":{"field":"i","type":"quantitative"},"size":{"field":"i","type":"ordinal","scale":{"type":"ordinal","domain":[1,2,3,4,5],"range":[2,16,29,16,2]},"legend":null}}},
{"mark":{"type":"trail","opacity":0.25},"transform":[{"flatten":["x"]},{"window":[{"op":"row_number","as":"i"}],"groupby":["g","h"]}],"encoding":{"x":{"field":"x","type":"quantitative","axis":null},"y":{"field":"h","type":"quantitative","axis":null},"color":{"field":"g","type":"nominal","legend":null},"detail":{"field":"h","type":"nominal"},"order":{"field":"i","type":"quantitative"},"size":{"field":"i","type":"ordinal","scale":{"type":"ordinal","domain":[1,2,3,4,5],"range":[1,8,15,8,1]},"legend":null}}},
{"mark":{"type":"rule","strokeWidth":5},"encoding":{"x":{"field":"lo","type":"quantitative","axis":null},"x2":{"field":"hi"},"y":{"field":"h","type":"quantitative","axis":null},"color":{"field":"g","type":"nominal","legend":null}}},
{"mark":{"type":"tick","orient":"vertical","size":15,"thickness":4.5,"opacity":1},"transform":[{"fold":["lo","m","hi"]}],"encoding":{"x":{"field":"value","type":"quantitative","axis":{"orient":"bottom","values":[-0.05,0,0.05,0.1],"format":".2f","title":"Unit: K","tickSize":12,"tickWidth":3}},"y":{"field":"h","type":"quantitative","axis":{"orient":"left","format":"d","values":[2700,3300,3900,4500,5100,5700],"title":["GMWR","Height (meters above ground level)"],"titleLineHeight":42,"titlePadding":19,"tickSize":12,"tickWidth":3}},"color":{"field":"g","type":"nominal","legend":null}}},
{"data":{"values":[{"z":0,"t":6000,"b":2177}]},"mark":{"type":"rule","strokeWidth":6,"color":"#000"},"encoding":{"x":{"field":"z","type":"quantitative","axis":null},"y":{"field":"t","type":"quantitative","axis":null},"y2":{"field":"b"}}},
{"data":{"values":[{"x":-0.0741,"h":5926,"t":"(d)"}]},"mark":{"type":"text","align":"left","baseline":"middle","fontWeight":"bold","fontSize":36,"color":"#000"},"encoding":{"x":{"field":"x","type":"quantitative","axis":null},"y":{"field":"h","type":"quantitative","axis":null},"text":{"field":"t"}}}]},
{"width":667,"height":913,"data":{"name":"e"},"resolve":{"axis":{"x":"independent","y":"independent"},"scale":{"size":"independent"}},"layer":[
{"mark":{"type":"trail","opacity":0.38},"transform":[{"flatten":["x"]},{"window":[{"op":"row_number","as":"i"}],"groupby":["g","h"]}],"encoding":{"x":{"field":"x","type":"quantitative","scale":{"domain":[-0.0955,0.0784],"nice":false,"zero":false},"axis":{"orient":"bottom","values":[-0.09,-0.08,-0.07,-0.06,-0.04,-0.03,-0.02,-0.01,0.01,0.02,0.03,0.04,0.06,0.07],"labels":false,"title":null,"tickSize":7,"tickWidth":2.5}},"y":{"field":"h","type":"quantitative","scale":{"domain":[2177,6073],"nice":false,"zero":false},"axis":{"orient":"left","values":[2250,2400,2550,2850,3000,3150,3450,3600,3750,4050,4200,4350,4650,4800,4950,5250,5400,5550,5850,6000],"labels":false,"title":null,"tickSize":7,"tickWidth":2.5}},"color":{"field":"g","type":"nominal","legend":null},"detail":{"field":"h","type":"nominal"},"order":{"field":"i","type":"quantitative"},"size":{"field":"i","type":"ordinal","scale":{"type":"ordinal","domain":[1,2,3,4,5],"range":[2,16,29,16,2]},"legend":null}}},
{"mark":{"type":"trail","opacity":0.25},"transform":[{"flatten":["x"]},{"window":[{"op":"row_number","as":"i"}],"groupby":["g","h"]}],"encoding":{"x":{"field":"x","type":"quantitative","axis":null},"y":{"field":"h","type":"quantitative","axis":null},"color":{"field":"g","type":"nominal","legend":null},"detail":{"field":"h","type":"nominal"},"order":{"field":"i","type":"quantitative"},"size":{"field":"i","type":"ordinal","scale":{"type":"ordinal","domain":[1,2,3,4,5],"range":[1,8,15,8,1]},"legend":null}}},
{"mark":{"type":"rule","strokeWidth":5},"encoding":{"x":{"field":"lo","type":"quantitative","axis":null},"x2":{"field":"hi"},"y":{"field":"h","type":"quantitative","axis":null},"color":{"field":"g","type":"nominal","legend":null}}},
{"mark":{"type":"tick","orient":"vertical","size":15,"thickness":4.5,"opacity":1},"transform":[{"fold":["lo","m","hi"]}],"encoding":{"x":{"field":"value","type":"quantitative","axis":{"orient":"bottom","values":[-0.05,0,0.05],"format":".2f","title":"Unit: K","tickSize":12,"tickWidth":3}},"y":{"field":"h","type":"quantitative","axis":{"orient":"left","values":[2700,3300,3900,4500,5100,5700],"labels":false,"title":null,"tickSize":12,"tickWidth":3}},"color":{"field":"g","type":"nominal","legend":null}}},
{"data":{"values":[{"z":0,"t":6000,"b":2177}]},"mark":{"type":"rule","strokeWidth":6,"color":"#000"},"encoding":{"x":{"field":"z","type":"quantitative","axis":null},"y":{"field":"t","type":"quantitative","axis":null},"y2":{"field":"b"}}},
{"data":{"values":[{"x":-0.091,"h":5926,"t":"(e)"}]},"mark":{"type":"text","align":"left","baseline":"middle","fontWeight":"bold","fontSize":36,"color":"#000"},"encoding":{"x":{"field":"x","type":"quantitative","axis":null},"y":{"field":"h","type":"quantitative","axis":null},"text":{"field":"t"}}}]},
{"width":667,"height":913,"data":{"name":"f"},"resolve":{"axis":{"x":"independent","y":"independent"},"scale":{"size":"independent"}},"layer":[
{"mark":{"type":"trail","opacity":0.38},"transform":[{"flatten":["x"]},{"window":[{"op":"row_number","as":"i"}],"groupby":["g","h"]}],"encoding":{"x":{"field":"x","type":"quantitative","scale":{"domain":[-0.0272,0.0606],"nice":false,"zero":false},"axis":{"orient":"bottom","values":[-0.025,-0.015,-0.01,-0.005,0.005,0.01,0.015,0.025,0.03,0.035,0.045,0.05,0.055],"labels":false,"title":null,"tickSize":7,"tickWidth":2.5}},"y":{"field":"h","type":"quantitative","scale":{"domain":[2177,6073],"nice":false,"zero":false},"axis":{"orient":"left","values":[2250,2400,2550,2850,3000,3150,3450,3600,3750,4050,4200,4350,4650,4800,4950,5250,5400,5550,5850,6000],"labels":false,"title":null,"tickSize":7,"tickWidth":2.5}},"color":{"field":"g","type":"nominal","legend":null},"detail":{"field":"h","type":"nominal"},"order":{"field":"i","type":"quantitative"},"size":{"field":"i","type":"ordinal","scale":{"type":"ordinal","domain":[1,2,3,4,5],"range":[2,16,29,16,2]},"legend":null}}},
{"mark":{"type":"trail","opacity":0.25},"transform":[{"flatten":["x"]},{"window":[{"op":"row_number","as":"i"}],"groupby":["g","h"]}],"encoding":{"x":{"field":"x","type":"quantitative","axis":null},"y":{"field":"h","type":"quantitative","axis":null},"color":{"field":"g","type":"nominal","legend":null},"detail":{"field":"h","type":"nominal"},"order":{"field":"i","type":"quantitative"},"size":{"field":"i","type":"ordinal","scale":{"type":"ordinal","domain":[1,2,3,4,5],"range":[1,8,15,8,1]},"legend":null}}},
{"mark":{"type":"rule","strokeWidth":5},"encoding":{"x":{"field":"lo","type":"quantitative","axis":null},"x2":{"field":"hi"},"y":{"field":"h","type":"quantitative","axis":null},"color":{"field":"g","type":"nominal","legend":null}}},
{"mark":{"type":"tick","orient":"vertical","size":15,"thickness":4.5,"opacity":1},"transform":[{"fold":["lo","m","hi"]}],"encoding":{"x":{"field":"value","type":"quantitative","axis":{"orient":"bottom","values":[-0.02,0,0.02,0.04,0.06],"format":".2f","title":"Unit: K","tickSize":12,"tickWidth":3}},"y":{"field":"h","type":"quantitative","axis":{"orient":"left","values":[2700,3300,3900,4500,5100,5700],"labels":false,"title":null,"tickSize":12,"tickWidth":3}},"color":{"field":"g","type":"nominal","legend":null}}},
{"data":{"values":[{"z":0,"t":5580,"b":2177}]},"mark":{"type":"rule","strokeWidth":6,"color":"#000"},"encoding":{"x":{"field":"z","type":"quantitative","axis":null},"y":{"field":"t","type":"quantitative","axis":null},"y2":{"field":"b"}}},
{"data":{"values":[{"x":-0.0245,"h":5926,"t":"(f)"}]},"mark":{"type":"text","align":"left","baseline":"middle","fontWeight":"bold","fontSize":36,"color":"#000"},"encoding":{"x":{"field":"x","type":"quantitative","axis":null},"y":{"field":"h","type":"quantitative","axis":null},"text":{"field":"t"}}}]}
]}
